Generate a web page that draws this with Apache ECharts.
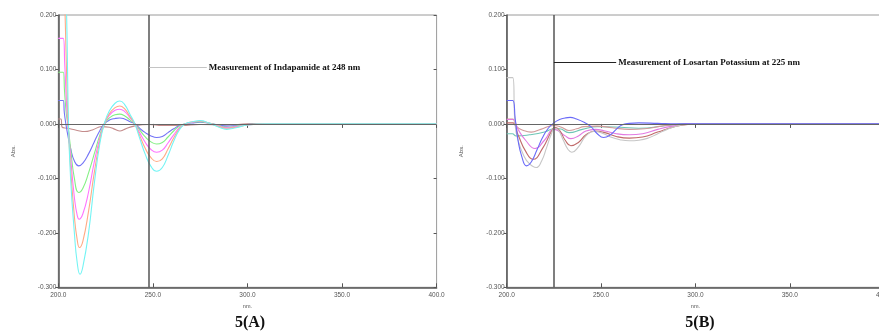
<!DOCTYPE html>
<html>
<head>
<meta charset="utf-8">
<script src="https://cdn.jsdelivr.net/npm/echarts@6/dist/echarts.min.js"></script>
<style>
html,body{margin:0;padding:0;background:#fff;}
#c{width:879px;height:331px;}
</style>
</head>
<body>
<div id="c"></div>
<script>
// ---------- DATA ----------
const xTicks = [200, 250, 300, 350, 400];
const yTicks = [-0.3, -0.2, -0.1, 0, 0.1, 0.2];
const panelTitles = ['5(A)', '5(B)'];
const annotA = 'Measurement of Indapamide at 248 nm';
const annotB = 'Measurement of Losartan Potassium at 225 nm';
const markA = 248;
const markB = 225;

// Panel A (Indapamide) derivative spectra [nm, Abs.]
const A_cyan = [[200,0.30],[203.5,0.30],[204.4,0.20],[205.4,0],[206.5,-0.10],[208.5,-0.20],[210,-0.255],[211.5,-0.276],[213,-0.262],[216,-0.20],[219,-0.11],[222,-0.035],[224.3,0],[227,0.024],[230,0.038],[232.5,0.042],[235,0.036],[238,0.017],[240.5,0],[243,-0.026],[246,-0.056],[249,-0.078],[252,-0.087],[255,-0.08],[258,-0.058],[261,-0.032],[264,-0.011],[267,0],[271,0.004],[275,0.006],[280,0.001],[285,-0.006],[289,-0.010],[294,-0.007],[300,-0.002],[310,0],[400,0]];
const A_orange = [[200,0.30],[202.8,0.30],[203.6,0.20],[204.4,0.09],[205.2,0],[206.5,-0.08],[208.5,-0.17],[210,-0.213],[211.2,-0.227],[213,-0.215],[216,-0.16],[219,-0.09],[222,-0.03],[224.3,0],[227,0.019],[230,0.03],[232.5,0.033],[235,0.028],[238,0.013],[240.5,0],[243,-0.021],[246,-0.045],[249,-0.062],[252,-0.069],[255,-0.064],[258,-0.046],[261,-0.026],[264,-0.009],[267,0],[271,0.004],[275,0.005],[280,0.001],[285,-0.005],[289,-0.008],[294,-0.006],[300,-0.002],[310,0],[400,0]];
const A_magenta = [[200,0.157],[202.6,0.157],[203.4,0.11],[204.3,0.04],[205.1,0],[206.5,-0.06],[208.5,-0.135],[210,-0.168],[211,-0.175],[213,-0.165],[216,-0.125],[219,-0.07],[222,-0.025],[224.3,0],[227,0.016],[230,0.025],[232.5,0.027],[235,0.023],[238,0.011],[240.5,0],[243,-0.016],[246,-0.034],[249,-0.047],[252,-0.052],[255,-0.048],[258,-0.035],[261,-0.02],[264,-0.007],[267,0],[271,0.003],[275,0.005],[280,0.001],[285,-0.004],[289,-0.007],[294,-0.005],[300,-0.002],[310,0],[400,0]];
const A_green = [[200,0.095],[202.6,0.095],[203.3,0.06],[204.2,0.02],[205,0],[206.5,-0.045],[208.5,-0.1],[210.8,-0.126],[213,-0.118],[216,-0.09],[219,-0.055],[222,-0.02],[224.3,0],[227,0.011],[230,0.017],[232.5,0.018],[235,0.015],[238,0.007],[240.5,0],[243,-0.011],[246,-0.024],[249,-0.033],[252,-0.037],[255,-0.034],[258,-0.024],[261,-0.013],[264,-0.004],[267,0],[271,0.003],[275,0.004],[280,0.001],[285,-0.003],[289,-0.006],[294,-0.004],[300,-0.001],[310,0],[400,0]];
const A_blue = [[200,0.043],[202.6,0.043],[203.2,0.02],[204,0],[205,-0.02],[206.5,-0.045],[208.5,-0.068],[210.8,-0.077],[213,-0.072],[216,-0.055],[219,-0.033],[222,-0.012],[224.3,0],[227,0.007],[230,0.01],[232.5,0.011],[235,0.009],[238,0.004],[240.5,0],[243,-0.008],[246,-0.016],[249,-0.022],[252,-0.025],[255,-0.023],[258,-0.016],[261,-0.009],[264,-0.003],[267,0],[271,0.002],[275,0.003],[280,0.001],[285,-0.002],[289,-0.004],[294,-0.003],[300,-0.001],[310,0],[400,0]];
const A_brown = [[200,0.009],[201.4,0.009],[202,-0.006],[205,-0.008],[210,-0.012],[214,-0.014],[218,-0.011],[223,-0.005],[227,-0.006],[230,-0.01],[232.6,-0.013],[235,-0.01],[240,-0.004],[248,-0.001],[255,-0.003],[265,-0.003],[275,-0.001],[290,-0.002],[300,0],[400,0]];

// Panel B (Losartan Potassium) derivative spectra [nm, Abs.]
const B_gray = [[200,0.085],[203.2,0.085],[204.4,0],[206,-0.03],[209,-0.058],[212,-0.073],[215.6,-0.08],[218.5,-0.068],[221,-0.045],[223.5,-0.02],[225.5,-0.008],[227.5,-0.012],[230,-0.03],[232.5,-0.047],[234.5,-0.052],[238,-0.042],[242,-0.022],[246,-0.014],[250,-0.016],[255,-0.024],[260,-0.029],[265,-0.031],[270,-0.03],[275,-0.026],[280,-0.018],[285,-0.01],[290,-0.004],[295,-0.001],[300,0],[400,0]];
const B_blue = [[200,0.043],[203.2,0.043],[204.5,0.01],[206,-0.03],[208,-0.06],[210.5,-0.077],[213,-0.07],[216,-0.048],[219,-0.025],[222,-0.008],[225,0.002],[228,0.008],[231,0.011],[233.6,0.012],[237,0.009],[241,0.003],[244.6,-0.005],[248,-0.018],[251.3,-0.025],[255,-0.02],[258,-0.01],[261,-0.002],[265,0.001],[270,0.002],[280,0.001],[290,0],[400,0]];
const B_brownDark = [[200,0.002],[203.2,0.002],[206,-0.02],[210,-0.05],[214,-0.065],[219,-0.045],[223.5,-0.015],[225.5,-0.006],[228,-0.012],[231,-0.03],[234,-0.04],[238,-0.034],[242,-0.02],[247,-0.013],[252,-0.016],[258,-0.023],[265,-0.026],[272,-0.024],[280,-0.015],[288,-0.006],[296,-0.001],[305,0],[400,0]];
const B_magenta = [[200,0.008],[203.2,0.008],[206,-0.01],[210,-0.03],[215,-0.045],[220,-0.03],[225,-0.01],[227,-0.012],[231,-0.022],[234,-0.027],[238,-0.022],[242,-0.013],[247,-0.01],[252,-0.013],[258,-0.018],[265,-0.02],[272,-0.018],[280,-0.01],[288,-0.004],[298,0],[400,0]];
const B_brownLight = [[200,0.009],[203.2,0.009],[205,-0.004],[209,-0.012],[213,-0.015],[218,-0.01],[225,-0.003],[229,-0.006],[233,-0.012],[237,-0.009],[241,-0.005],[248,-0.004],[256,-0.007],[265,-0.01],[273,-0.009],[282,-0.004],[290,-0.001],[300,0],[400,0]];
const B_teal = [[200,-0.018],[203,-0.018],[205,-0.022],[212,-0.02],[220,-0.015],[225,-0.009],[228,-0.009],[233,-0.016],[240,-0.01],[248,-0.005],[260,-0.006],[270,-0.008],[285,-0.003],[295,0],[400,0]];

// ---------- CHART ----------
const chart = echarts.init(document.getElementById('c'), null, {renderer: 'canvas'});

const gridA = {left: 58.3, top: 15, width: 378.3, height: 272.3, show: true, borderColor: '#9a9a9a', borderWidth: 1, containLabel: false, outerBoundsMode: 'none'};
const gridB = {left: 506.7, top: 15, width: 377.5, height: 272.3, show: true, borderColor: '#9a9a9a', borderWidth: 1, containLabel: false, outerBoundsMode: 'none'};

const labFont = {fontFamily: 'Liberation Sans, Arial, sans-serif', fontSize: 6.5, color: '#555'};

function xBottom(g) {
  return {
    type: 'value', gridIndex: g, position: 'bottom', min: xTicks[0], max: xTicks[xTicks.length - 1], interval: 50,
    axisLine: {show: true, onZero: false, lineStyle: {color: '#555', width: 1.5}},
    axisTick: {show: true, inside: true, length: 4, lineStyle: {color: '#555'}},
    splitLine: {show: false},
    axisLabel: Object.assign({formatter: v => v.toFixed(1), margin: 4, hideOverlap: false}, labFont),
    name: 'nm.', nameLocation: 'middle', nameGap: 12,
    nameTextStyle: {fontFamily: 'Liberation Sans, Arial, sans-serif', fontSize: 5.5, color: '#555'}
  };
}
function xTop(g) {
  return {
    type: 'value', gridIndex: g, position: 'top', min: xTicks[0], max: xTicks[xTicks.length - 1], interval: 50,
    axisLine: {show: false}, axisTick: {show: true, inside: true, length: 4, lineStyle: {color: '#555'}},
    axisLabel: {show: false}, splitLine: {show: false}
  };
}
function yLeft(g) {
  return {
    type: 'value', gridIndex: g, position: 'left', min: yTicks[0], max: yTicks[yTicks.length - 1], interval: 0.1,
    axisLine: {show: true, onZero: false, lineStyle: {color: '#555', width: 1.5}},
    axisTick: {show: true, inside: false, length: 3, lineStyle: {color: '#555'}},
    splitLine: {show: false},
    axisLabel: Object.assign({formatter: v => (Math.round(v * 1000) / 1000).toFixed(3), margin: 2}, labFont),
    name: 'Abs.', nameLocation: 'middle', nameGap: 42, nameRotate: 90,
    nameTextStyle: {fontFamily: 'Liberation Sans, Arial, sans-serif', fontSize: 6, color: '#555'}
  };
}
function yRight(g) {
  return {
    type: 'value', gridIndex: g, position: 'right', min: yTicks[0], max: yTicks[yTicks.length - 1], interval: 0.1,
    axisLine: {show: false}, axisTick: {show: true, inside: true, length: 3, lineStyle: {color: '#555'}},
    axisLabel: {show: false}, splitLine: {show: false}
  };
}

function ser(data, color, xi, yi) {
  return {
    type: 'line', data: data, xAxisIndex: xi, yAxisIndex: yi,
    showSymbol: false, symbol: 'none', smooth: 0.5, clip: true,
    lineStyle: {color: color, width: 1.1}, itemStyle: {color: color}, animation: false, silent: true, z: 3
  };
}

function marks(xi, yi, markX, leaderTo, leaderY, leaderColor) {
  return {
    type: 'line', data: [], xAxisIndex: xi, yAxisIndex: yi, silent: true, animation: false,
    markLine: {
      symbol: 'none', silent: true, animation: false, label: {show: false},
      data: [
        [{coord: [xTicks[0], 0], lineStyle: {color: '#666', width: 1, type: 'solid'}}, {coord: [xTicks[xTicks.length - 1], 0]}],
        [{coord: [markX, yTicks[0]], lineStyle: {color: '#555', width: 1.5, type: 'solid'}}, {coord: [markX, yTicks[yTicks.length - 1]]}],
        [{coord: [markX, leaderY], lineStyle: {color: leaderColor, width: 1, type: 'solid'}}, {coord: [leaderTo, leaderY]}]
      ]
    }
  };
}

const option = {
  backgroundColor: '#fff',
  animation: false,
  grid: [gridA, gridB],
  xAxis: [xBottom(0), xTop(0), xBottom(1), xTop(1)],
  yAxis: [yLeft(0), yRight(0), yLeft(1), yRight(1)],
  series: [
    marks(0, 0, markA, 278.5, 0.104, '#c4c4c4'),
    ser(A_brown, '#c48c8c', 0, 0),
    ser(A_blue, '#7474f6', 0, 0),
    ser(A_green, '#84f084', 0, 0),
    ser(A_magenta, '#ff74ff', 0, 0),
    ser(A_orange, '#ffaa84', 0, 0),
    ser(A_cyan, '#74f4f4', 0, 0),
    marks(2, 2, markB, 258, 0.113, '#222'),
    ser(B_teal, '#6ec6b6', 2, 2),
    ser(B_brownLight, '#d29a9a', 2, 2),
    ser(B_magenta, '#e27ae2', 2, 2),
    ser(B_brownDark, '#c06a6a', 2, 2),
    ser(B_gray, '#c6c6c6', 2, 2),
    ser(B_blue, '#6a6af8', 2, 2)
  ]
};
chart.setOption(option);

// Annotations and panel titles
const pA = chart.convertToPixel({xAxisIndex: 0, yAxisIndex: 0}, [278.5, 0.104]);
const pB = chart.convertToPixel({xAxisIndex: 2, yAxisIndex: 2}, [258, 0.113]);
const annFont = 'bold 9px "Liberation Serif", "Times New Roman", serif';
const titleFont = 'bold 16px "Liberation Serif", "Times New Roman", serif';
chart.setOption({
  graphic: [
    {type: 'text', x: pA[0] + 2, y: pA[1], style: {text: annotA, font: annFont, fill: '#111', textAlign: 'left', textVerticalAlign: 'middle'}},
    {type: 'text', x: pB[0] + 2, y: pB[1], style: {text: annotB, font: annFont, fill: '#111', textAlign: 'left', textVerticalAlign: 'middle'}},
    {type: 'text', x: 250, y: 323, style: {text: panelTitles[0], font: titleFont, fill: '#111', textAlign: 'center', textVerticalAlign: 'middle'}},
    {type: 'text', x: 700, y: 323, style: {text: panelTitles[1], font: titleFont, fill: '#111', textAlign: 'center', textVerticalAlign: 'middle'}}
  ]
});
</script>
</body>
</html>
